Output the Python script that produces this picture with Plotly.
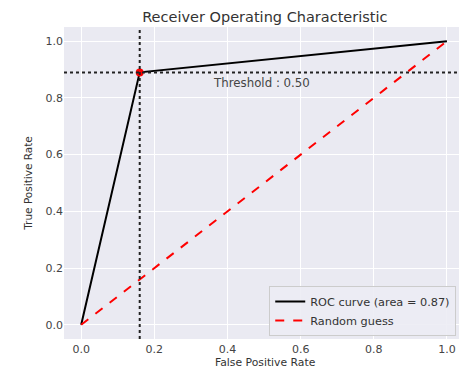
import plotly.graph_objects as go

fpr = [0.0, 0.16, 1.0]
tpr = [0.0, 0.89, 1.0]
rand_x = [0.0, 1.0]
rand_y = [0.0, 1.0]
thr_fpr = 0.16
thr_tpr = 0.89
auc = 0.87
xticks = [0.0, 0.2, 0.4, 0.6, 0.8, 1.0]
yticks = [0.0, 0.2, 0.4, 0.6, 0.8, 1.0]

fig = go.Figure()
fig.add_trace(go.Scatter(x=fpr, y=tpr, mode="lines", line=dict(color="black", width=2),
                         name=f"ROC curve (area = {auc:.2f})"))
fig.add_trace(go.Scatter(x=rand_x, y=rand_y, mode="lines", line=dict(color="red", width=2, dash="dash"),
                         name="Random guess"))
fig.add_vline(x=thr_fpr, line=dict(color="#222222", width=2, dash="dot"))
fig.add_hline(y=thr_tpr, line=dict(color="#222222", width=2, dash="dot"))
fig.add_trace(go.Scatter(x=[thr_fpr], y=[thr_tpr], mode="markers", marker=dict(color="red", size=8),
                         showlegend=False))
fig.add_annotation(x=0.494, y=0.852, text="Threshold : 0.50", showarrow=False,
                   font=dict(size=11.8, color="#444444"))
# x-axis title placed as a paper annotation below the tick labels
fig.add_annotation(x=0.51, y=-0.074, xref="paper", yref="paper", text="False Positive Rate",
                   showarrow=False, xanchor="center", yanchor="middle",
                   font=dict(size=10.8, color="#333333"))

fig.update_layout(
    width=459, height=368,
    margin=dict(l=64, r=0, t=27, b=29),
    paper_bgcolor="white", plot_bgcolor="#EAEAF2",
    font=dict(family="DejaVu Sans", color="#444444"),
    title=dict(text="Receiver Operating Characteristic", x=0.577, xanchor="center", y=0.953, yanchor="middle",
               font=dict(size=14.5, color="#333333")),
    showlegend=True,
    legend=dict(x=0.993, y=0.01, xanchor="right", yanchor="bottom", bgcolor="rgba(236,236,244,0.9)",
                bordercolor="#CCCCCC", borderwidth=1, font=dict(size=11.3, color="#333333"),
                tracegroupgap=0, itemwidth=30),
)
fig.update_xaxes(range=[-0.047, 1.033], tickvals=xticks, ticktext=[f"{v:.1f}" for v in xticks],
                 showgrid=True, gridcolor="white", gridwidth=1, zeroline=False, showline=False,
                 ticks="", tickfont=dict(size=11, color="#444444"), ticklabelstandoff=2)
fig.update_yaxes(range=[-0.05, 1.05], tickvals=yticks, ticktext=[f"{v:.1f}" for v in yticks],
                 showgrid=True, gridcolor="white", gridwidth=1, zeroline=False, showline=False,
                 ticks="", tickfont=dict(size=11, color="#444444"),
                 title=dict(text="True Positive Rate", font=dict(size=10.5, color="#333333"), standoff=10))

fig.write_html("out.html")
